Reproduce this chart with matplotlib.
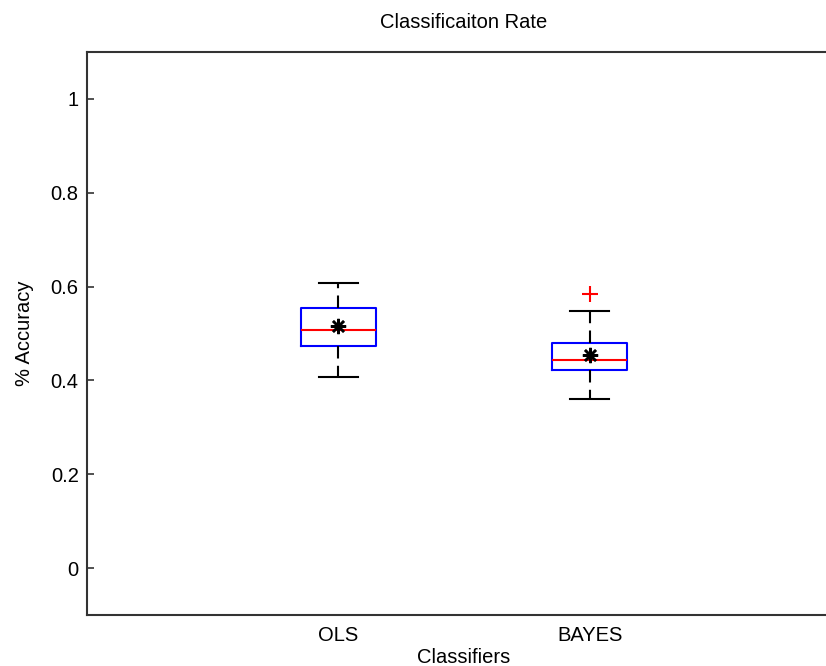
import matplotlib
matplotlib.use("Agg")
import matplotlib.pyplot as plt

# values
classifiers = ["OLS", "BAYES"]
whisker_low = [0.407, 0.360]
box_q1 = [0.473, 0.422]
box_median = [0.507, 0.444]
box_q3 = [0.555, 0.479]
whisker_high = [0.607, 0.547]
mean_acc = [0.515, 0.454]
outliers = [[], [0.584]]

plt.rcParams["font.family"] = ["Liberation Sans", "DejaVu Sans"]
plt.rcParams["font.size"] = 14.5

fig = plt.figure(figsize=(8.26, 6.66), dpi=100)
ax = fig.add_axes([87 / 826, 1 - 615 / 666, 754 / 826, 563 / 666])

stats = []
for i, name in enumerate(classifiers):
    stats.append(dict(
        label=name, whislo=whisker_low[i], q1=box_q1[i], med=box_median[i],
        q3=box_q3[i], whishi=whisker_high[i], mean=mean_acc[i], fliers=outliers[i],
    ))

positions = [1, 2]
ax.bxp(
    stats, positions=positions, widths=0.3, showmeans=True, capwidths=0.155,
    boxprops=dict(color="blue", linewidth=1.5),
    medianprops=dict(color="red", linewidth=1.5),
    whiskerprops=dict(color="black", linewidth=1.5, linestyle=(0, (6, 3.5))),
    capprops=dict(color="black", linewidth=1.5),
    meanprops=dict(marker=(8, 2, 0), markerfacecolor="black", markeredgecolor="black",
                   markersize=11, markeredgewidth=1.8, linestyle="none"),
    flierprops=dict(marker="+", markeredgecolor="red", markersize=11,
                    markeredgewidth=1.5, linestyle="none"),
)

ax.set_xlim(0, 3)
ax.set_ylim(-0.1, 1.1)
ax.set_yticks([0, 0.2, 0.4, 0.6, 0.8, 1.0])
ax.set_yticklabels(["0", "0.2", "0.4", "0.6", "0.8", "1"])
ax.set_xticks(positions)
ax.set_xticklabels(classifiers)
ax.tick_params(axis="y", direction="in", length=5, width=1.2, color="#333333", pad=6)
ax.tick_params(axis="x", length=0, pad=8)
for s in ax.spines.values():
    s.set_color("#333333")
    s.set_linewidth(1.5)

ax.set_title("Classificaiton Rate", fontsize=14.5, pad=17)
ax.set_xlabel("Classifiers", labelpad=2)
ax.set_ylabel("% Accuracy", labelpad=12)

fig.savefig("out.png", dpi=100)
